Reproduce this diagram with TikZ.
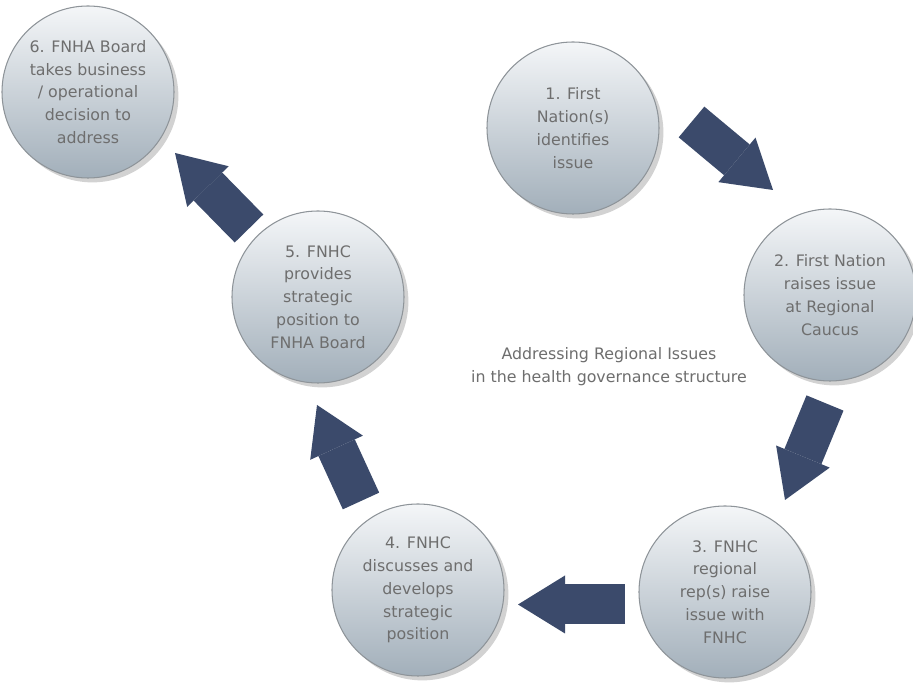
\documentclass[tikz,border=0pt]{standalone}
\usepackage{fontspec}
\setsansfont{DejaVu Sans}
\usetikzlibrary{arrows.meta,shadows}
\definecolor{arrowblue}{HTML}{3B4A6B}
\definecolor{ballTop}{HTML}{F4F6F8}
\definecolor{ballBottom}{HTML}{A2AFBA}
\definecolor{ballRim}{HTML}{8E9499}
\definecolor{stepText}{HTML}{6E6E6E}
\tikzset{
  ball/.style={circle, minimum size=3.44cm, inner sep=0pt, align=center,
    draw=ballRim, line width=0.6pt, top color=ballTop, bottom color=ballBottom,
    drop shadow={shadow xshift=2.5pt, shadow yshift=-2.5pt, opacity=0.35},
    text=stepText, font=\sffamily\fontsize{9}{13}\selectfont},
  blockarrow/.style={draw=arrowblue, line width=0.8cm, line cap=butt,
    -{Triangle[length=0.94cm, width=1.16cm, line width=0pt]}},
}

\begin{document}
\begin{tikzpicture}
	%%%%% START %%%%%
	\useasboundingbox[fill=white] (0, 0) rectangle (18.26, 13.74);
	
	% steps
	\node[ball] (issue) at (11.46, 11.18) {1. First\\Nation(s)\\identifies\\issue};
	\node[ball] (caucus) at (16.60, 7.84) {2. First Nation\\raises issue\\at Regional\\Caucus};
	\node[ball] (reps) at (14.50, 1.90) {3. FNHC\\regional\\rep(s) raise\\issue with\\FNHC};
	\node[ball] (discuss) at (8.36, 1.94) {4. FNHC\\discusses and\\develops\\strategic\\position};
	\node[ball] (provide) at (6.36, 7.80) {5. FNHC\\provides\\strategic\\position to\\FNHA Board};
	\node[ball] (board) at (1.76, 11.90) {6. FNHA Board\\takes business\\/ operational\\decision to\\address};
	
	\node[align=center, text=stepText, font=\sffamily\fontsize{9}{13}\selectfont] (title) at (12.18, 6.41)
		{Addressing Regional Issues\\in the health governance structure};
	
	% arrow ends
	\coordinate (a1s) at (13.83, 11.30);
	\coordinate (a1e) at (15.46, 9.94);
	\coordinate (a2s) at (16.50, 5.68);
	\coordinate (a2e) at (15.70, 3.74);
	\coordinate (a3s) at (12.50, 1.65);
	\coordinate (a3e) at (10.36, 1.65);
	\coordinate (a4s) at (7.22, 3.72);
	\coordinate (a4e) at (6.34, 5.64);
	\coordinate (a5s) at (4.98, 9.17);
	\coordinate (a5e) at (3.50, 10.68);
	
	\draw[blockarrow] (a1s) -- (a1e);
	\draw[blockarrow] (a2s) -- (a2e);
	\draw[blockarrow] (a3s) -- (a3e);
	\draw[blockarrow] (a4s) -- (a4e);
	\draw[blockarrow] (a5s) -- (a5e);
	%%%%% END %%%%%
\end{tikzpicture}
\end{document}
